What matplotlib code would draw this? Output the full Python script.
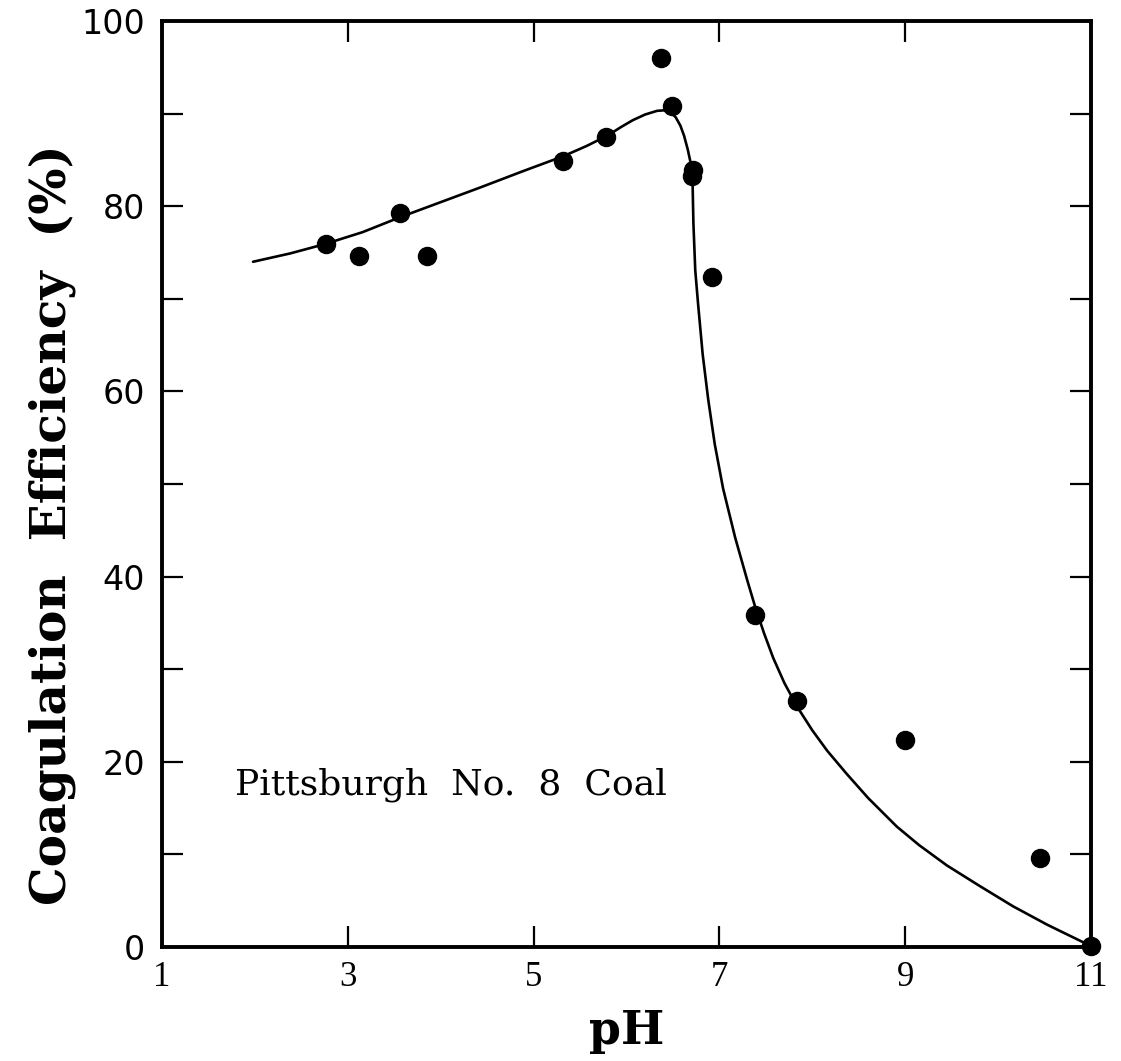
import matplotlib
matplotlib.use("Agg")
import matplotlib.pyplot as plt
from matplotlib.ticker import MultipleLocator

# measured data points
ph_points = [2.76, 3.12, 3.56, 3.85, 5.32, 5.78, 6.37, 6.49, 6.72, 6.71, 6.92, 7.38, 7.84, 9.0, 10.45, 11.0]
eff_points = [75.9, 74.6, 79.3, 74.6, 84.9, 87.5, 96.0, 90.8, 83.9, 83.3, 72.4, 35.9, 26.6, 22.4, 9.6, 0.1]

# fitted curve
ph_curve = [1.98, 2.38, 2.75, 3.16, 3.56, 3.99, 4.42, 4.89, 5.32, 5.57, 5.79, 5.95, 6.07, 6.20, 6.33,
            6.40, 6.47, 6.53, 6.58, 6.62, 6.66, 6.69, 6.71, 6.72, 6.74, 6.77, 6.82, 6.88, 6.95, 7.04,
            7.17, 7.30, 7.38, 7.48, 7.58, 7.70, 7.84, 8.00, 8.16, 8.37, 8.60, 8.91, 9.15, 9.45, 9.80,
            10.16, 10.53, 11.0]
eff_curve = [74.0, 74.9, 75.9, 77.2, 78.8, 80.4, 82.0, 83.8, 85.4, 86.5, 87.6, 88.6, 89.3, 89.9, 90.3,
             90.35, 90.2, 89.6, 88.7, 87.6, 86.1, 84.7, 83.2, 78.2, 73.1, 69.5, 64.0, 59.1, 54.3, 49.5,
             44.2, 39.6, 36.9, 33.9, 31.2, 28.5, 25.9, 23.4, 21.2, 18.7, 16.1, 13.0, 11.0, 8.8, 6.6,
             4.4, 2.4, 0.1]

x_ticks = [1, 3, 5, 7, 9, 11]
y_ticks = [0, 20, 40, 60, 80, 100]

fig = plt.figure(figsize=(11.21, 10.61), dpi=100)
ax = fig.add_axes([162/1121, 1-947/1061, (1091-162)/1121, (947-21)/1061])

ax.plot(ph_curve, eff_curve, color="black", lw=1.9, solid_joinstyle="round", solid_capstyle="round")
ax.plot(ph_points, eff_points, "o", color="black", ms=13, clip_on=False)

ax.set_xlim(1, 11)
ax.set_ylim(0, 100)
ax.set_xticks(x_ticks)
ax.set_yticks(y_ticks)
ax.yaxis.set_minor_locator(MultipleLocator(10))
for s in ax.spines.values():
    s.set_linewidth(2.8)
ax.tick_params(which="both", direction="in", top=True, right=True, width=1.6, length=15)
ax.tick_params(axis="x", which="major", pad=10)
ax.tick_params(axis="y", which="major", pad=12)
for lab in ax.get_xticklabels():
    lab.set_fontfamily("Liberation Serif")
    lab.set_fontsize(25)
for lab in ax.get_yticklabels():
    lab.set_fontfamily("DejaVu Sans")
    lab.set_fontsize(24)

ax.set_xlabel("pH", fontfamily="DejaVu Serif", fontweight="bold", fontsize=33, labelpad=10)
ax.set_ylabel("Coagulation  Efficiency  (%)", fontfamily="DejaVu Serif", fontweight="bold",
              fontsize=35)
ax.yaxis.set_label_coords(-0.093, 0.456)
ax.text(1.79, 17.5, "Pittsburgh  No.  8  Coal", fontfamily="DejaVu Serif", fontsize=26,
        ha="left", va="center")

fig.savefig("out.png", dpi=100)
